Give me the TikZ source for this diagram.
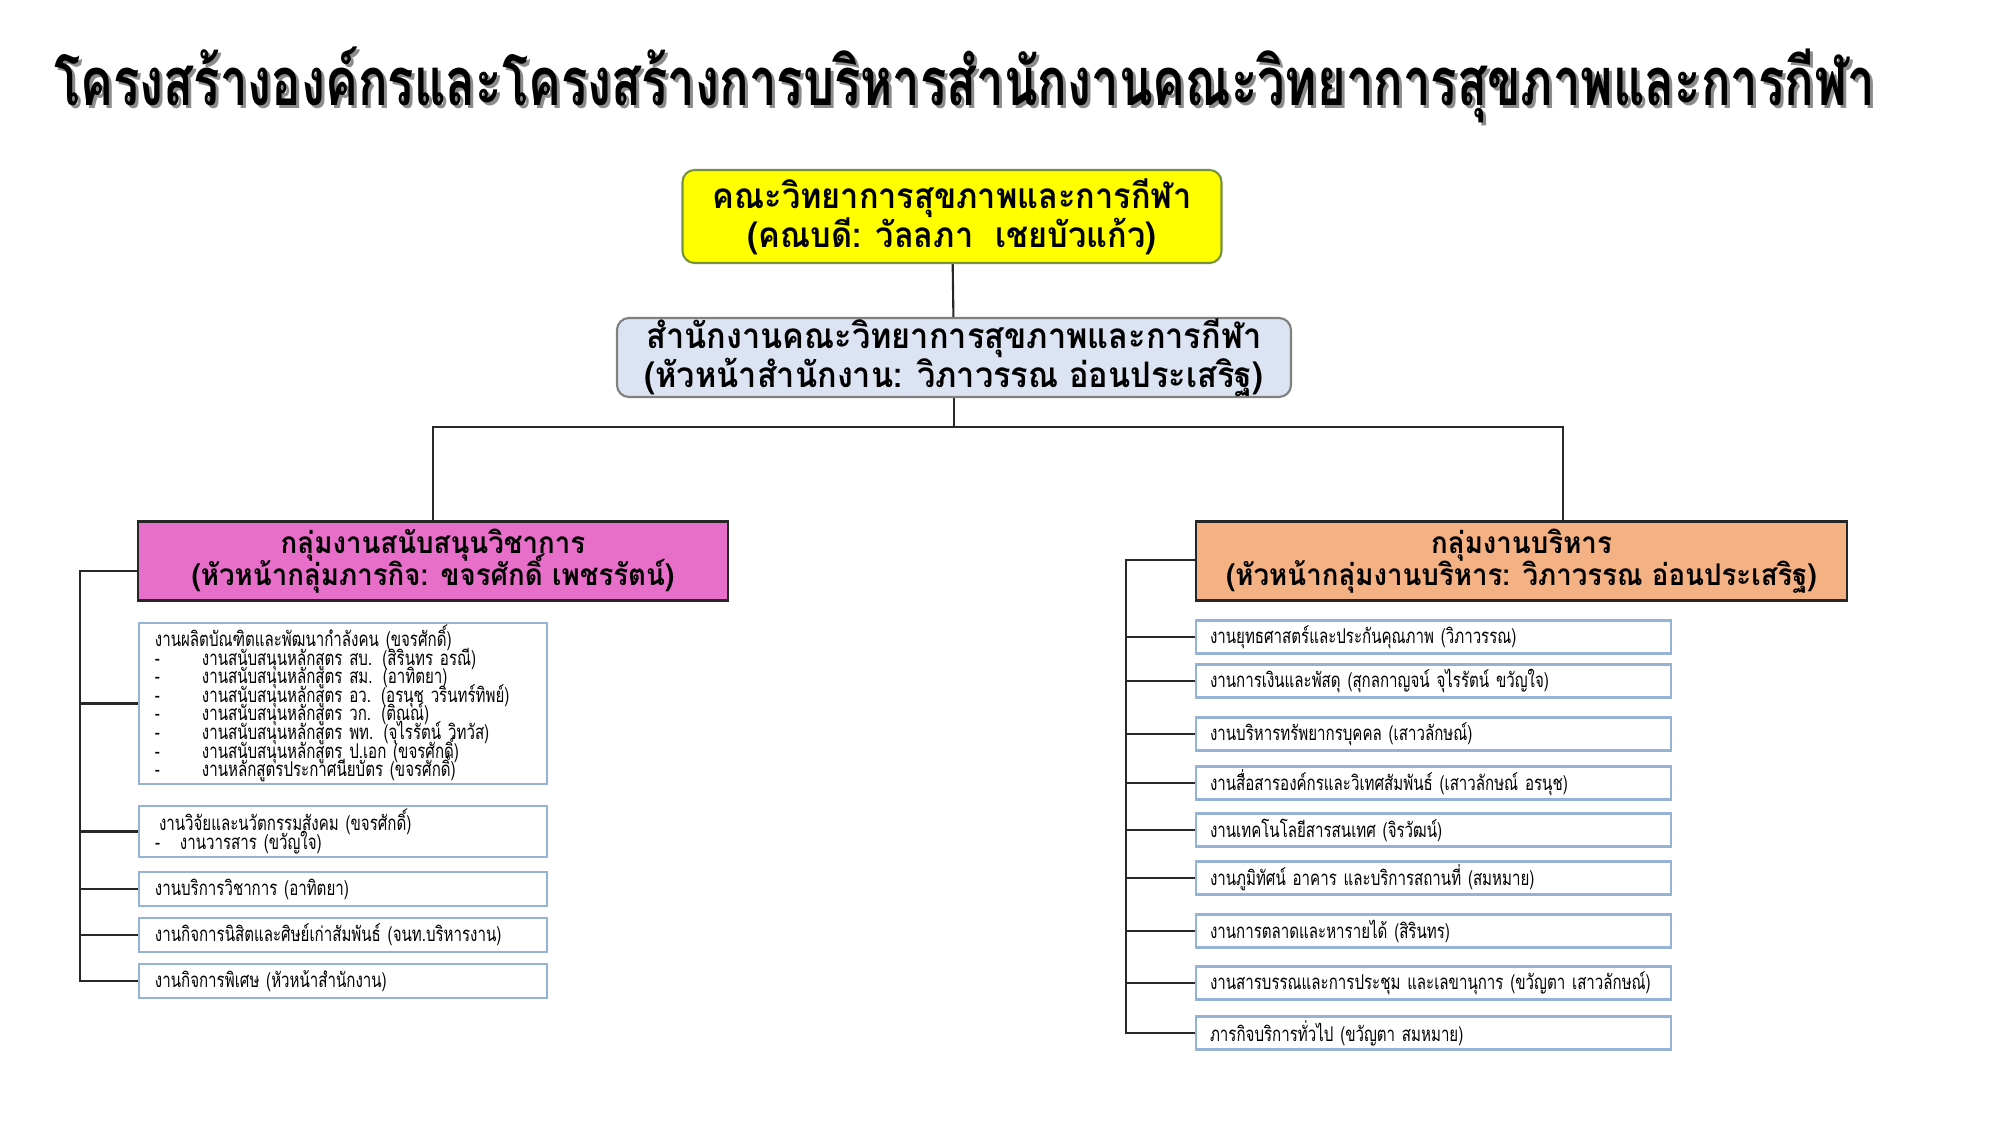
\documentclass[tikz,border=0pt]{standalone}
\usepackage{fontspec}
\usepackage{xcolor}
\usetikzlibrary{positioning, calc}

\newfontfamily\titlefont[Script=Thai, FakeStretch=0.735]{Loma}
\newfontfamily\headfont[Script=Thai, FakeStretch=0.925]{Loma}
\newfontfamily\itemfont[Script=Thai, FakeStretch=0.74]{Loma}
\newcommand\tightlines{\setlength{\lineskiplimit}{-20pt}}

\definecolor{deanfill}{RGB}{255,255,0}
\definecolor{deanline}{RGB}{119,147,60}
\definecolor{officefill}{RGB}{220,227,242}
\definecolor{officeline}{RGB}{128,128,128}
\definecolor{acadfill}{RGB}{232,111,201}
\definecolor{adminfill}{RGB}{244,177,131}
\definecolor{itemline}{RGB}{149,179,215}
\definecolor{linkline}{RGB}{40,40,40}

\begin{document}
\begin{tikzpicture}[
  headbox/.style={draw, line width=0.6pt, align=center, inner sep=0pt, font=\headfont\bfseries\fontsize{10}{11}\selectfont\tightlines},
  groupbox/.style={draw=black!85, line width=0.6pt, align=center, inner sep=0pt, font=\headfont\bfseries\fontsize{8.5}{9.1}\selectfont\tightlines},
  litem/.style={draw=itemline, line width=0.6pt, fill=white, text width=3.76cm, inner xsep=0.16cm, inner ysep=0pt, align=left, font=\itemfont\fontsize{5.8}{5.3}\selectfont\tightlines},
  ritem/.style={draw=itemline, line width=0.6pt, fill=white, text width=4.47cm, inner xsep=0.14cm, inner ysep=0pt, minimum height=0.33cm, align=left, font=\itemfont\fontsize{5.8}{5.3}\selectfont},
  link/.style={draw=linkline, line width=0.6pt}
]
\useasboundingbox (0,0) rectangle (20,-11.25);

% title
\node[anchor=base, text=black!45, font=\titlefont\bfseries\fontsize{19}{21}\selectfont] (titleshadow) at (9.68,-1.08) {โครงสร้างองค์กรและโครงสร้างการบริหารสำนักงานคณะวิทยาการสุขภาพและการกีฬา};
\node[anchor=base, font=\titlefont\bfseries\fontsize{19}{21}\selectfont] (title) at (9.65,-1.05) {โครงสร้างองค์กรและโครงสร้างการบริหารสำนักงานคณะวิทยาการสุขภาพและการกีฬา};

% top levels
\node[headbox, draw=deanline, fill=deanfill, rounded corners=0.12cm, minimum width=5.39cm, minimum height=0.93cm] (dean) at (9.52,-2.165) {คณะวิทยาการสุขภาพและการกีฬา\\(คณบดี: วัลลภา~~เชยบัวแก้ว)};
\node[headbox, draw=officeline, fill=officefill, rounded corners=0.12cm, minimum width=6.74cm, minimum height=0.79cm] (office) at (9.54,-3.575) {สำนักงานคณะวิทยาการสุขภาพและการกีฬา\\(หัวหน้าสำนักงาน: วิภาวรรณ อ่อนประเสริฐ)};

\node[groupbox, fill=acadfill, minimum width=5.90cm, minimum height=0.79cm] (acad) at (4.33,-5.61) {กลุ่มงานสนับสนุนวิชาการ\\(หัวหน้ากลุ่มภารกิจ: ขจรศักดิ์ เพชรรัตน์)};
\node[groupbox, fill=adminfill, minimum width=6.51cm, minimum height=0.79cm] (admin) at (15.215,-5.61) {กลุ่มงานบริหาร\\(หัวหน้ากลุ่มงานบริหาร: วิภาวรรณ อ่อนประเสริฐ)};

\coordinate (join) at (9.54,-4.27);
\coordinate (lbar) at (0.80,-5.71);
\coordinate (rbar) at (11.26,-5.60);

% academic support items
\node[litem, minimum height=1.61cm] (a1) at (3.43,-7.035) {งานผลิตบัณฑิตและพัฒนากำลังคน (ขจรศักดิ์)\\
\makebox[0.47cm][l]{-}งานสนับสนุนหลักสูตร สบ. (สิรินทร อรณี)\\
\makebox[0.47cm][l]{-}งานสนับสนุนหลักสูตร สม. (อาทิตยา)\\
\makebox[0.47cm][l]{-}งานสนับสนุนหลักสูตร อว. (อรนุช วรินทร์ทิพย์)\\
\makebox[0.47cm][l]{-}งานสนับสนุนหลักสูตร วก. (ติณณ์)\\
\makebox[0.47cm][l]{-}งานสนับสนุนหลักสูตร พท. (จุไรรัตน์ วิทวัส)\\
\makebox[0.47cm][l]{-}งานสนับสนุนหลักสูตร ป.เอก (ขจรศักดิ์)\\
\makebox[0.47cm][l]{-}งานหลักสูตรประกาศนียบัตร (ขจรศักดิ์)};
\node[litem, minimum height=0.51cm] (a2) at (3.43,-8.315) {\hspace{0.04cm}งานวิจัยและนวัตกรรมสังคม (ขจรศักดิ์)\\
\makebox[0.25cm][l]{-}งานวารสาร (ขวัญใจ)};
\node[litem, minimum height=0.34cm] (a3) at (3.43,-8.89) {งานบริการวิชาการ (อาทิตยา)};
\node[litem, minimum height=0.34cm] (a4) at (3.43,-9.35) {งานกิจการนิสิตและศิษย์เก่าสัมพันธ์ (จนท.บริหารงาน)};
\node[litem, minimum height=0.34cm] (a5) at (3.43,-9.81) {งานกิจการพิเศษ (หัวหน้าสำนักงาน)};

% administration items
\node[ritem] (b1) at (14.335,-6.37) {งานยุทธศาสตร์และประกันคุณภาพ (วิภาวรรณ)};
\node[ritem] (b2) at (14.335,-6.81) {งานการเงินและพัสดุ (สุกลกาญจน์ จุไรรัตน์ ขวัญใจ)};
\node[ritem] (b3) at (14.335,-7.34) {งานบริหารทรัพยากรบุคคล (เสาวลักษณ์)};
\node[ritem] (b4) at (14.335,-7.83) {งานสื่อสารองค์กรและวิเทศสัมพันธ์ (เสาวลักษณ์ อรนุช)};
\node[ritem] (b5) at (14.335,-8.30) {งานเทคโนโลยีสารสนเทศ (จิรวัฒน์)};
\node[ritem] (b6) at (14.335,-8.78) {งานภูมิทัศน์ อาคาร และบริการสถานที่ (สมหมาย)};
\node[ritem] (b7) at (14.335,-9.31) {งานการตลาดและหารายได้ (สิรินทร)};
\node[ritem] (b8) at (14.335,-9.83) {งานสารบรรณและการประชุม และเลขานุการ (ขวัญตา เสาวลักษณ์)};
\node[ritem] (b9) at (14.335,-10.33) {ภารกิจบริการทั่วไป (ขวัญตา สมหมาย)};

% connectors
\draw[link] (dean) -- (office);
\draw[link] (office.south) -- (join);
\draw[link] (acad.north) |- (join) -| ([xshift=4.15mm]admin.north);
\draw[link] (acad.west |- lbar) -- (lbar) |- (a5.west);
\foreach \n in {a1,a2,a3,a4}
  \draw[link] (\n.west) -- (\n.west -| lbar);
\draw[link] (admin.west |- rbar) -- (rbar) |- (b9.west);
\foreach \n in {b1,b2,b3,b4,b5,b6,b7,b8}
  \draw[link] (\n.west) -- (\n.west -| rbar);
\end{tikzpicture}
\end{document}
